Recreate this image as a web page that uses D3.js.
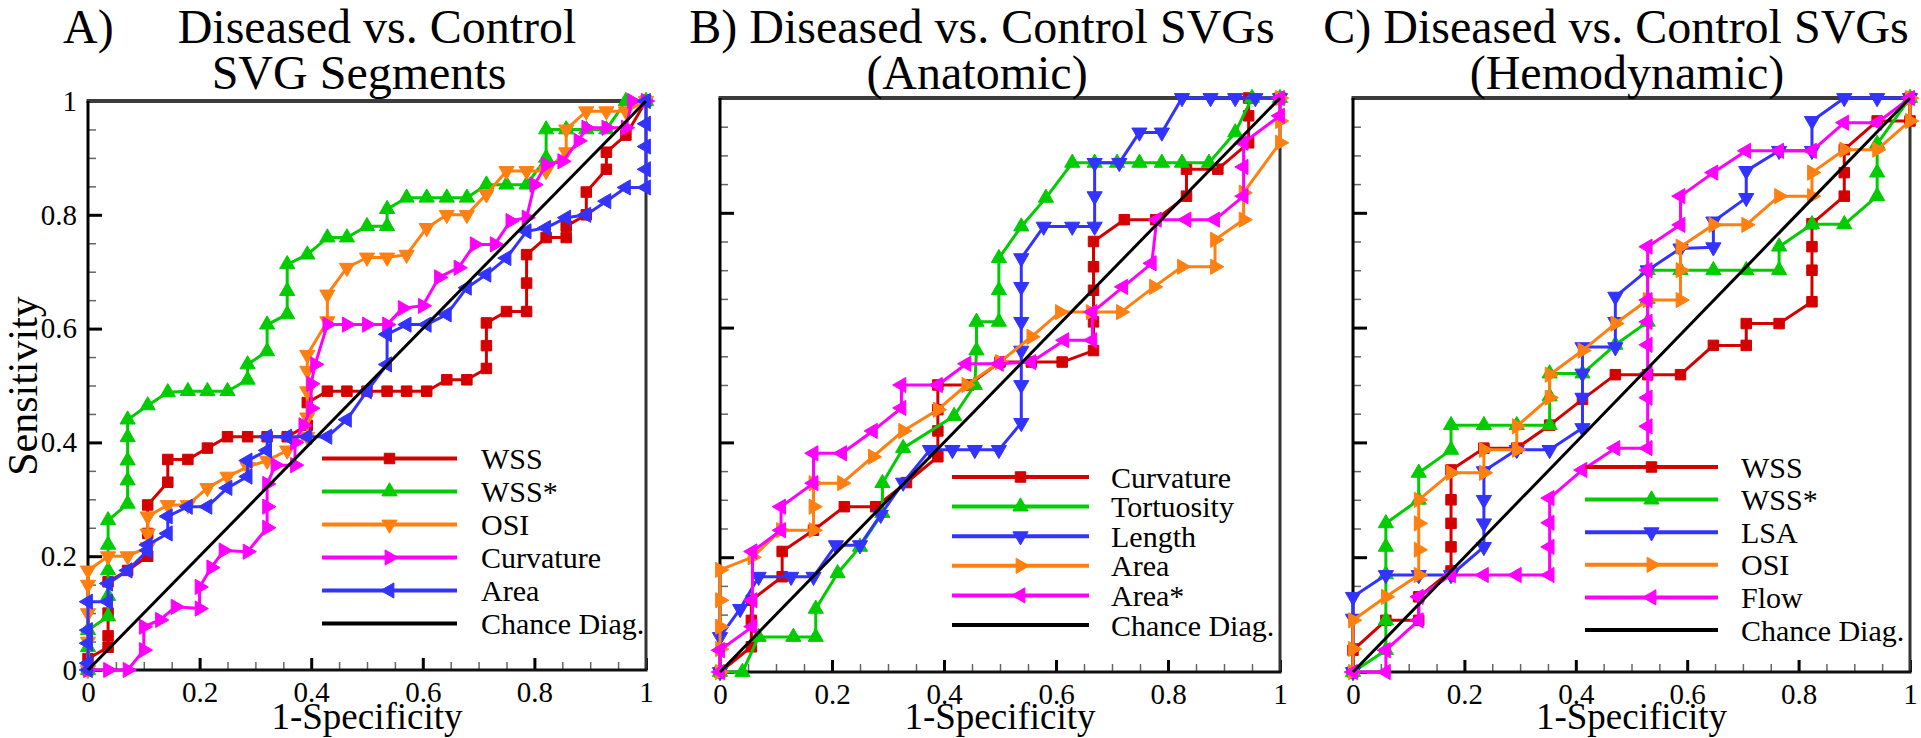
<!DOCTYPE html>
<html><head><meta charset="utf-8">
<script src="https://cdn.jsdelivr.net/npm/d3@7"></script>
<style>
html,body{margin:0;padding:0;background:#fff;}
svg{display:block;font-family:"Liberation Serif","Times New Roman",serif;}
</style></head><body>
<svg id="chart" width="1921" height="738"></svg>
<script>
// ---------------- DATA ----------------
const tickValues = [0, 0.2, 0.4, 0.6, 0.8, 1];
const tickLabels = ["0", "0.2", "0.4", "0.6", "0.8", "1"];
const minorTicks = [0.05,0.1,0.15,0.25,0.3,0.35,0.45,0.5,0.55,0.65,0.7,0.75,0.85,0.9,0.95];

const titlesA = ["A)", "Diseased vs. Control", "SVG Segments"];
const titlesB = ["B) Diseased vs. Control SVGs", "(Anatomic)"];
const titlesC = ["C) Diseased vs. Control SVGs", "(Hemodynamic)"];
const xAxisTitle = "1-Specificity";
const yAxisTitle = "Sensitivity";

const legendA = ["WSS", "WSS*", "OSI", "Curvature", "Area", "Chance Diag."];
const legendB = ["Curvature", "Tortuosity", "Length", "Area", "Area*", "Chance Diag."];
const legendC = ["WSS", "WSS*", "LSA", "OSI", "Flow", "Chance Diag."];

const chanceDiag = [[0,0],[1,1]];

// Panel A: [1-Specificity, Sensitivity]
const aWSS = [[0,0],[0,0.02],[0.036,0.04],[0.036,0.06],[0.036,0.1],[0.036,0.155],[0.071,0.175],[0.107,0.2],[0.107,0.24],[0.107,0.29],[0.143,0.33],[0.143,0.37],[0.179,0.37],[0.214,0.39],[0.25,0.41],[0.286,0.41],[0.321,0.41],[0.357,0.41],[0.393,0.43],[0.393,0.47],[0.429,0.49],[0.464,0.49],[0.5,0.49],[0.536,0.49],[0.571,0.49],[0.607,0.49],[0.643,0.51],[0.679,0.51],[0.714,0.53],[0.714,0.57],[0.714,0.61],[0.75,0.63],[0.786,0.63],[0.786,0.68],[0.786,0.73],[0.821,0.76],[0.857,0.76],[0.857,0.78],[0.893,0.8],[0.893,0.84],[0.929,0.88],[0.929,0.91],[0.964,0.94],[1,1]];
const aWSSs = [[0,0],[0,0.04],[0,0.07],[0.036,0.094],[0.036,0.13],[0.036,0.175],[0.036,0.22],[0.036,0.263],[0.071,0.292],[0.071,0.333],[0.071,0.368],[0.071,0.409],[0.071,0.44],[0.107,0.465],[0.143,0.488],[0.179,0.49],[0.214,0.49],[0.25,0.49],[0.286,0.51],[0.286,0.537],[0.321,0.56],[0.321,0.607],[0.357,0.625],[0.357,0.666],[0.357,0.713],[0.393,0.73],[0.429,0.76],[0.464,0.76],[0.5,0.78],[0.536,0.78],[0.536,0.81],[0.571,0.83],[0.607,0.83],[0.643,0.83],[0.679,0.83],[0.714,0.853],[0.75,0.853],[0.786,0.853],[0.821,0.9],[0.821,0.95],[0.857,0.95],[0.893,0.95],[0.929,0.95],[0.964,1],[1,1]];
const aOSI = [[0,0],[0,0.05],[0,0.1],[0,0.15],[0,0.175],[0.036,0.2],[0.071,0.2],[0.107,0.216],[0.107,0.24],[0.107,0.27],[0.143,0.29],[0.179,0.29],[0.214,0.32],[0.25,0.34],[0.286,0.357],[0.321,0.368],[0.357,0.386],[0.393,0.41],[0.393,0.444],[0.393,0.49],[0.393,0.526],[0.393,0.554],[0.429,0.613],[0.429,0.66],[0.464,0.707],[0.5,0.725],[0.536,0.725],[0.571,0.73],[0.607,0.777],[0.643,0.8],[0.679,0.8],[0.714,0.836],[0.75,0.877],[0.786,0.877],[0.821,0.877],[0.857,0.91],[0.857,0.95],[0.893,0.982],[0.929,0.982],[0.964,0.982],[1,1]];
const aCurv = [[0,0],[0.036,0],[0.071,0],[0.1,0.035],[0.1,0.076],[0.129,0.088],[0.157,0.111],[0.2,0.108],[0.2,0.146],[0.221,0.18],[0.243,0.21],[0.286,0.208],[0.321,0.25],[0.321,0.287],[0.321,0.327],[0.336,0.36],[0.371,0.36],[0.371,0.4],[0.386,0.43],[0.4,0.46],[0.4,0.503],[0.407,0.537],[0.429,0.607],[0.464,0.607],[0.5,0.607],[0.536,0.607],[0.564,0.636],[0.6,0.64],[0.629,0.69],[0.664,0.707],[0.693,0.748],[0.729,0.748],[0.757,0.789],[0.786,0.795],[0.8,0.853],[0.821,0.888],[0.85,0.894],[0.879,0.93],[0.893,0.953],[0.929,0.953],[0.964,0.953],[0.975,1],[1,1]];
const aArea = [[0,0],[0,0.012],[0,0.047],[0,0.07],[0,0.12],[0.036,0.12],[0.036,0.152],[0.071,0.175],[0.107,0.21],[0.107,0.22],[0.143,0.24],[0.143,0.27],[0.179,0.287],[0.214,0.287],[0.25,0.32],[0.286,0.34],[0.286,0.368],[0.321,0.386],[0.321,0.41],[0.357,0.41],[0.393,0.41],[0.429,0.41],[0.464,0.44],[0.5,0.49],[0.536,0.537],[0.536,0.59],[0.571,0.607],[0.607,0.607],[0.643,0.625],[0.679,0.672],[0.714,0.695],[0.75,0.724],[0.786,0.771],[0.821,0.777],[0.857,0.795],[0.893,0.8],[0.929,0.824],[0.964,0.848],[1,0.848],[1,0.88],[1,0.92],[1,0.96],[1,1]];

// Panel B
const bCurv = [[0,0],[0.056,0.044],[0.056,0.09],[0.056,0.125],[0.111,0.166],[0.111,0.21],[0.167,0.247],[0.222,0.288],[0.278,0.288],[0.333,0.33],[0.389,0.375],[0.389,0.42],[0.389,0.457],[0.389,0.5],[0.444,0.5],[0.5,0.54],[0.556,0.54],[0.611,0.54],[0.667,0.56],[0.667,0.61],[0.667,0.665],[0.667,0.706],[0.667,0.75],[0.722,0.788],[0.778,0.788],[0.833,0.829],[0.833,0.876],[0.889,0.876],[0.944,0.922],[0.944,0.969],[0.944,1],[1,1]];
const bTort = [[0,0],[0.04,0],[0.069,0.061],[0.131,0.061],[0.171,0.061],[0.171,0.11],[0.21,0.172],[0.25,0.218],[0.29,0.277],[0.29,0.329],[0.327,0.39],[0.418,0.446],[0.455,0.5],[0.458,0.56],[0.458,0.61],[0.498,0.61],[0.498,0.665],[0.498,0.721],[0.538,0.776],[0.582,0.826],[0.629,0.887],[0.669,0.887],[0.709,0.887],[0.749,0.887],[0.789,0.887],[0.825,0.887],[0.873,0.887],[0.92,0.94],[0.95,1],[1,1]];
const bLen = [[0,0],[0,0.061],[0.036,0.11],[0.069,0.166],[0.127,0.166],[0.167,0.166],[0.207,0.221],[0.25,0.221],[0.287,0.274],[0.327,0.33],[0.375,0.387],[0.415,0.387],[0.455,0.387],[0.498,0.387],[0.538,0.434],[0.538,0.5],[0.538,0.56],[0.538,0.61],[0.538,0.671],[0.538,0.721],[0.578,0.776],[0.629,0.776],[0.669,0.776],[0.669,0.829],[0.669,0.887],[0.713,0.887],[0.749,0.94],[0.789,0.94],[0.825,1],[0.876,1],[0.92,1],[0.956,1],[1,1]];
const bArea = [[0,0],[0,0.04],[0,0.079],[0,0.125],[0,0.178],[0.058,0.2],[0.109,0.247],[0.167,0.247],[0.167,0.288],[0.167,0.329],[0.218,0.329],[0.273,0.375],[0.327,0.42],[0.389,0.457],[0.44,0.5],[0.5,0.54],[0.556,0.584],[0.607,0.627],[0.662,0.627],[0.716,0.627],[0.775,0.671],[0.825,0.706],[0.884,0.706],[0.884,0.753],[0.935,0.788],[0.935,0.835],[1,0.922],[1,0.96],[1,1]];
const bAreaS = [[0,0],[0,0.038],[0.058,0.079],[0.058,0.125],[0.058,0.21],[0.109,0.247],[0.109,0.288],[0.167,0.329],[0.167,0.381],[0.218,0.381],[0.273,0.42],[0.324,0.46],[0.324,0.5],[0.389,0.5],[0.44,0.537],[0.498,0.537],[0.556,0.54],[0.615,0.578],[0.665,0.578],[0.665,0.627],[0.72,0.671],[0.771,0.712],[0.78,0.788],[0.833,0.788],[0.884,0.788],[0.935,0.829],[0.935,0.88],[0.935,0.922],[1,0.969],[1,1]];

// Panel C
const cWSS = [[0,0],[0,0.038],[0.059,0.09],[0.118,0.09],[0.118,0.131],[0.176,0.176],[0.176,0.218],[0.176,0.259],[0.176,0.3],[0.176,0.352],[0.235,0.39],[0.294,0.39],[0.353,0.43],[0.412,0.475],[0.471,0.518],[0.529,0.518],[0.588,0.518],[0.647,0.569],[0.706,0.569],[0.706,0.607],[0.765,0.607],[0.824,0.645],[0.824,0.7],[0.824,0.741],[0.824,0.781],[0.882,0.829],[0.882,0.87],[0.882,0.91],[0.941,0.96],[1,0.96],[1,1]];
const cWSSs = [[0,0],[0.059,0.038],[0.059,0.09],[0.059,0.17],[0.059,0.218],[0.059,0.259],[0.118,0.3],[0.118,0.347],[0.176,0.387],[0.176,0.43],[0.235,0.43],[0.294,0.43],[0.353,0.43],[0.353,0.48],[0.353,0.52],[0.412,0.52],[0.471,0.57],[0.529,0.61],[0.529,0.65],[0.529,0.7],[0.588,0.7],[0.647,0.7],[0.706,0.7],[0.765,0.7],[0.765,0.741],[0.824,0.78],[0.882,0.78],[0.941,0.829],[0.941,0.87],[0.941,0.92],[1,1]];
const cLSA = [[0,0],[0,0.093],[0,0.131],[0.059,0.169],[0.118,0.169],[0.176,0.169],[0.235,0.218],[0.235,0.259],[0.235,0.3],[0.235,0.35],[0.294,0.387],[0.353,0.387],[0.412,0.425],[0.412,0.478],[0.412,0.52],[0.412,0.566],[0.471,0.566],[0.471,0.61],[0.471,0.654],[0.529,0.7],[0.588,0.738],[0.647,0.74],[0.647,0.785],[0.706,0.826],[0.706,0.873],[0.765,0.908],[0.824,0.908],[0.824,0.96],[0.882,1],[0.941,1],[1,1]];
const cOSI = [[0,0],[0,0.04],[0,0.09],[0.059,0.131],[0.118,0.169],[0.118,0.213],[0.118,0.259],[0.118,0.3],[0.176,0.347],[0.235,0.347],[0.235,0.387],[0.294,0.387],[0.294,0.428],[0.353,0.478],[0.353,0.518],[0.412,0.56],[0.471,0.607],[0.529,0.648],[0.588,0.648],[0.588,0.7],[0.588,0.741],[0.647,0.779],[0.706,0.779],[0.765,0.829],[0.824,0.829],[0.824,0.87],[0.882,0.91],[0.941,0.91],[1,0.96],[1,1]];
const cFlow = [[0,0],[0.059,0],[0.059,0.038],[0.118,0.09],[0.118,0.131],[0.176,0.169],[0.235,0.169],[0.294,0.169],[0.353,0.169],[0.353,0.218],[0.353,0.26],[0.353,0.303],[0.412,0.352],[0.471,0.39],[0.529,0.39],[0.529,0.428],[0.529,0.478],[0.529,0.52],[0.529,0.57],[0.529,0.61],[0.529,0.648],[0.529,0.7],[0.529,0.741],[0.588,0.779],[0.588,0.829],[0.647,0.87],[0.706,0.908],[0.765,0.908],[0.824,0.908],[0.882,0.957],[0.941,0.957],[1,1]];

// ---------------- STYLE / LAYOUT ----------------
const RED = "#d40000", GREEN = "#00cc00", BLUE = "#3333ff", ORANGE = "#ff8010", MAGENTA = "#ff00ff", BLACK = "#000000";

const panels = [
  { left: 88, right: 646, top: 101, bottom: 670, yLabels: true,
    legend: { x1: 322, x2: 457, tx: 481, y0: 458.5, dy: 33 },
    names: legendA,
    series: [aWSS, aWSSs, aOSI, aCurv, aArea],
    colors: [RED, GREEN, ORANGE, MAGENTA, BLUE],
    markers: ["square", "up", "down", "right", "left"] },
  { left: 720, right: 1280, top: 98, bottom: 672, yLabels: false,
    legend: { x1: 952, x2: 1089, tx: 1111, y0: 477, dy: 29.6 },
    names: legendB,
    series: [bCurv, bTort, bLen, bArea, bAreaS],
    colors: [RED, GREEN, BLUE, ORANGE, MAGENTA],
    markers: ["square", "up", "down", "right", "left"] },
  { left: 1353, right: 1910, top: 98, bottom: 672, yLabels: false,
    legend: { x1: 1585, x2: 1718, tx: 1741, y0: 467, dy: 32.6 },
    names: legendC,
    series: [cWSS, cWSSs, cLSA, cOSI, cFlow],
    colors: [RED, GREEN, BLUE, ORANGE, MAGENTA],
    markers: ["square", "up", "down", "right", "left"] }
];

const svg = d3.select("#chart");

function symbolPath(kind) {
  if (kind === "square") return d3.symbol().type(d3.symbolSquare).size(110)();
  return d3.symbol().type(d3.symbolTriangle).size(100)();
}
const rot = { square: 0, up: 0, down: 180, right: 90, left: -90 };

function drawMarkers(g, pts, kind, color) {
  g.selectAll(null).data(pts).enter().append("path")
    .attr("d", symbolPath(kind))
    .attr("transform", d => `translate(${d[0]},${d[1]}) rotate(${rot[kind]})`)
    .attr("fill", color).attr("stroke", color).attr("stroke-width", 1);
}

panels.forEach(p => {
  const x = d3.scaleLinear().domain([0, 1]).range([p.left, p.right]);
  const y = d3.scaleLinear().domain([0, 1]).range([p.bottom, p.top]);
  const g = svg.append("g");

  // minor ticks
  const minorX = g.append("g").attr("transform", `translate(0,${p.bottom})`)
    .call(d3.axisBottom(x).tickValues(minorTicks).tickSize(-8).tickFormat(""));
  const minorY = g.append("g").attr("transform", `translate(${p.left},0)`)
    .call(d3.axisLeft(y).tickValues(minorTicks).tickSize(-8).tickFormat(""));
  [minorX, minorY].forEach(a => {
    a.select(".domain").remove();
    a.selectAll(".tick line").attr("stroke", "#666").attr("stroke-width", 1.5);
  });

  // major ticks
  const ax = g.append("g").attr("transform", `translate(0,${p.bottom})`)
    .call(d3.axisBottom(x).tickValues(tickValues).tickSize(-12).tickPadding(11)
      .tickFormat((d, i) => tickLabels[i]));
  const ay = g.append("g").attr("transform", `translate(${p.left},0)`)
    .call(d3.axisLeft(y).tickValues(tickValues).tickSize(-14).tickPadding(11)
      .tickFormat((d, i) => p.yLabels ? tickLabels[i] : ""));
  [ax, ay].forEach(a => {
    a.select(".domain").remove();
    a.selectAll(".tick line").attr("stroke", "#000").attr("stroke-width", 3);
    a.selectAll(".tick text").attr("font-size", 29).attr("fill", "#000")
      .attr("font-family", "Liberation Serif, serif");
  });
  ax.selectAll(".tick text").attr("dy", "0.71em");

  // frame
  g.append("line").attr("x1", p.left - 1.5).attr("x2", p.right + 1.5).attr("y1", p.top).attr("y2", p.top)
    .attr("stroke", "#3c3c3c").attr("stroke-width", 4);
  g.append("line").attr("x1", p.right).attr("x2", p.right).attr("y1", p.top).attr("y2", p.bottom)
    .attr("stroke", "#333").attr("stroke-width", 3);
  g.append("line").attr("x1", p.left).attr("x2", p.left).attr("y1", p.top).attr("y2", p.bottom + 1.5)
    .attr("stroke", "#000").attr("stroke-width", 3);
  g.append("line").attr("x1", p.left - 1.5).attr("x2", p.right + 1.5).attr("y1", p.bottom).attr("y2", p.bottom)
    .attr("stroke", "#111").attr("stroke-width", 3);

  const line = d3.line().x(d => x(d[0])).y(d => y(d[1]));

  // series
  p.series.forEach((s, i) => {
    g.append("path").attr("d", line(s)).attr("fill", "none")
      .attr("stroke", p.colors[i]).attr("stroke-width", 3).attr("stroke-linejoin", "round");
    drawMarkers(g, s.map(d => [x(d[0]), y(d[1])]), p.markers[i], p.colors[i]);
  });
  // chance diagonal
  g.append("path").attr("d", line(chanceDiag)).attr("fill", "none")
    .attr("stroke", BLACK).attr("stroke-width", 3);

  // legend
  const L = p.legend;
  p.names.forEach((name, i) => {
    const yy = L.y0 + i * L.dy;
    const col = i < p.series.length ? p.colors[i] : BLACK;
    g.append("line").attr("x1", L.x1).attr("x2", L.x2).attr("y1", yy).attr("y2", yy)
      .attr("stroke", col).attr("stroke-width", 4);
    if (i < p.series.length) drawMarkers(g, [[(L.x1 + L.x2) / 2, yy]], p.markers[i], col);
    g.append("text").attr("x", L.tx).attr("y", yy).attr("dy", "0.35em")
      .attr("font-size", 30).attr("fill", "#000").text(name);
  });

  // x-axis title
  g.append("text").attr("x", (p.left + p.right) / 2).attr("y", 729)
    .attr("text-anchor", "middle").attr("font-size", 37).text(xAxisTitle);
});

// y-axis title (panel A)
svg.append("text").attr("transform", "translate(37,386) rotate(-90)")
  .attr("text-anchor", "middle").attr("font-size", 42).text(yAxisTitle);

// titles
const T = (txt, x, y, anchor) => svg.append("text").attr("x", x).attr("y", y)
  .attr("text-anchor", anchor).attr("font-size", 48).attr("fill", "#000").text(txt);
T(titlesA[0], 63, 43, "start");
T(titlesA[1], 377, 43, "middle");
T(titlesA[2], 359, 89, "middle");
T(titlesB[0], 982, 43, "middle");
T(titlesB[1], 977, 89, "middle");
T(titlesC[0], 1616, 43, "middle");
T(titlesC[1], 1627, 89, "middle");
</script>
</body></html>
